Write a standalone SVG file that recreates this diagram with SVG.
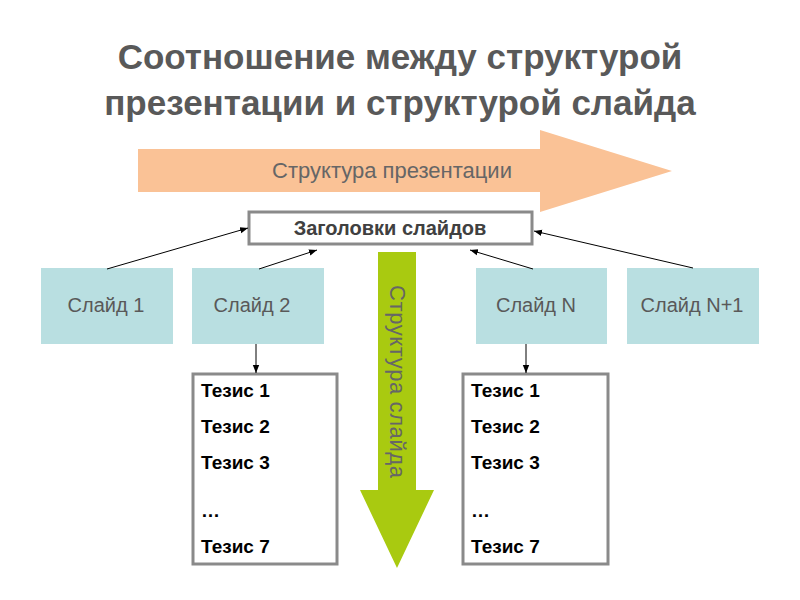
<svg xmlns="http://www.w3.org/2000/svg" width="800" height="600" viewBox="0 0 800 600">
<defs>
<style>
.title{font-family:"Liberation Sans",Arial,sans-serif;font-weight:bold;font-size:35px;fill:#595959;text-anchor:middle}
.big{font-family:"Liberation Sans",Arial,sans-serif;font-size:22px;fill:#666666;text-anchor:middle}
.slide{fill:#B9DFE1}
.slt{font-family:"Liberation Sans",Arial,sans-serif;font-size:20px;fill:#595959;text-anchor:middle}
.box{fill:#FFFFFF;stroke:#8A8A8A;stroke-width:3}
.hdr{font-family:"Liberation Sans",Arial,sans-serif;font-weight:bold;font-size:20px;fill:#404040;text-anchor:middle}
.th{font-family:"Liberation Sans",Arial,sans-serif;font-weight:bold;font-size:19px;fill:#000000}
.con{stroke:#000000;stroke-width:1;fill:none;marker-end:url(#ah)}
</style>
<marker id="ah" viewBox="0 0 10 10" refX="10" refY="5" markerWidth="8" markerHeight="8" markerUnits="userSpaceOnUse" orient="auto">
<path d="M0,1 L10,5 L0,9 Z" fill="#000000"/>
</marker>
</defs>
<rect width="800" height="600" fill="#FFFFFF"/>
<g id="title">
<text class="title" x="400" y="69">Соотношение между структурой</text>
<text class="title" x="400" y="115">презентации и структурой слайда</text>
</g>
<g id="presentation-arrow">
<polygon points="138,149 540,149 540,130 672,171 540,212 540,192 138,192" fill="#FAC296"/>
<text class="big" x="392" y="178">Структура презентации</text>
</g>
<g id="slide-arrow">
<polygon points="378,252 416,252 416,490 434,490 397,568 360,490 378,490" fill="#A9CA10"/>
<text class="big" transform="translate(390,381.5) rotate(90)" x="0" y="0" font-size="21" textLength="193" lengthAdjust="spacing">Структура  слайда</text>
</g>
<g id="headers">
<rect class="box" x="249" y="212" width="283" height="32"/>
<text class="hdr" x="390" y="235">Заголовки слайдов</text>
</g>
<g id="slide1">
<rect class="slide" x="41" y="268" width="132" height="76"/>
<text class="slt" x="106" y="312">Слайд 1</text>
</g>
<g id="slide2">
<rect class="slide" x="192" y="268" width="132" height="76"/>
<text class="slt" x="252" y="312">Слайд 2</text>
</g>
<g id="slideN">
<rect class="slide" x="476" y="268" width="131" height="76"/>
<text class="slt" x="536" y="312">Слайд N</text>
</g>
<g id="slideN1">
<rect class="slide" x="627" y="268" width="132" height="76"/>
<text class="slt" x="692" y="312">Слайд N+1</text>
</g>
<g id="theses-left">
<rect class="box" x="193" y="374" width="144" height="190" stroke-width="2.5"/>
<text class="th" x="201" y="397">Тезис 1</text>
<text class="th" x="201" y="433">Тезис 2</text>
<text class="th" x="201" y="469">Тезис 3</text>
<text class="th" x="201" y="517">…</text>
<text class="th" x="201" y="553">Тезис 7</text>
</g>
<g id="theses-right">
<rect class="box" x="463" y="374" width="145" height="190" stroke-width="2.5"/>
<text class="th" x="471" y="397">Тезис 1</text>
<text class="th" x="471" y="433">Тезис 2</text>
<text class="th" x="471" y="469">Тезис 3</text>
<text class="th" x="471" y="517">…</text>
<text class="th" x="471" y="553">Тезис 7</text>
</g>
<g id="connectors">
<line class="con" x1="107" y1="269" x2="248" y2="228"/>
<line class="con" x1="259" y1="269" x2="317" y2="250"/>
<line class="con" x1="533" y1="269" x2="470" y2="250"/>
<line class="con" x1="693" y1="268" x2="534" y2="231"/>
<line class="con" x1="256" y1="344" x2="256" y2="373"/>
<line class="con" x1="526" y1="344" x2="526" y2="373"/>
</g>
</svg>
